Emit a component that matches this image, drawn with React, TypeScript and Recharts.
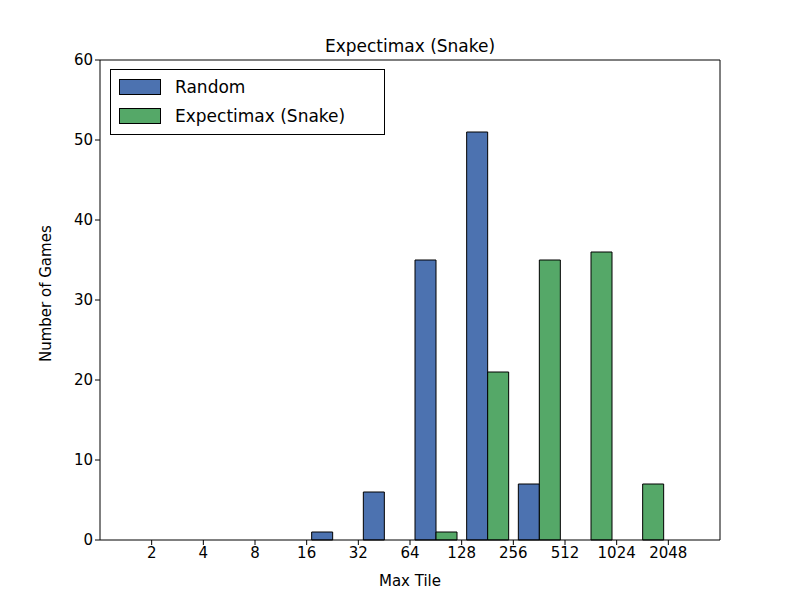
import React from 'react'
import { BarChart, Bar, XAxis, YAxis, ReferenceLine } from 'recharts'

const tileLabels = ['2', '4', '8', '16', '32', '64', '128', '256', '512', '1024', '2048']
const groupPos = [1.5, 2.5, 3.5, 4.5, 5.5, 6.5, 7.5, 8.5, 9.5, 10.5]
const randomGames = [0, 0, 0, 1, 6, 35, 51, 7, 0, 0]
const snakeGames = [0, 0, 0, 0, 0, 1, 21, 35, 36, 7]

const data = groupPos.map((x, i) => ({ x, random: randomGames[i], snake: snakeGames[i] }))
const tickPos = tileLabels.map((_, i) => i + 1)

const font = 'DejaVu Sans, sans-serif'

const LegendBox = () => (
  <div style={{ position: 'absolute', left: 110, top: 69, border: '1px solid #000', background: '#fff', padding: '2px 8px 4px', fontFamily: font, fontSize: 17, width: 257 }}>
    {[['Random', '#4C72B0'], ['Expectimax (Snake)', '#55A868']].map(([name, c]) => (
      <div key={name} style={{ display: 'flex', alignItems: 'center', height: 29 }}>
        <span style={{ width: 40, height: 14, background: c, border: '1px solid #000', marginRight: 14 }} />
        {name}
      </div>
    ))}
  </div>
)

export default function App() {
  return (
    <div style={{ position: 'absolute', left: 0, top: 0, width: 800, height: 600, background: '#fff' }}>
      <BarChart width={800} height={600} data={data} margin={{ top: 60, right: 80, left: 40, bottom: 0 }} barGap={0} barSize={21}>
        <XAxis dataKey="x" type="number" domain={[0, 12]} ticks={tickPos} tickFormatter={(v: number) => tileLabels[v - 1]}
          height={60} stroke="#000" tick={{ fill: '#000', fontSize: 15, fontFamily: font }} tickSize={5}
          label={{ value: 'Max Tile', position: 'insideBottom', offset: 14, fill: '#000', fontSize: 15, fontFamily: font }} />
        <YAxis domain={[0, 60]} ticks={[0, 10, 20, 30, 40, 50, 60]} width={60} stroke="#000" tickSize={5}
          tick={{ fill: '#000', fontSize: 15, fontFamily: font }}
          label={{ value: 'Number of Games', angle: -90, position: 'insideLeft', offset: 6, dy: 62, fill: '#000', fontSize: 15, fontFamily: font }} />
        <ReferenceLine y={60} stroke="#000" />
        <ReferenceLine x={12} stroke="#000" />
        <Bar dataKey="random" fill="#4C72B0" stroke="#000" isAnimationActive={false} />
        <Bar dataKey="snake" fill="#55A868" stroke="#000" isAnimationActive={false} />
        <text x={410} y={52} textAnchor="middle" fontSize={17} fontFamily={font}>Expectimax (Snake)</text>
      </BarChart>
      <LegendBox />
    </div>
  )
}
